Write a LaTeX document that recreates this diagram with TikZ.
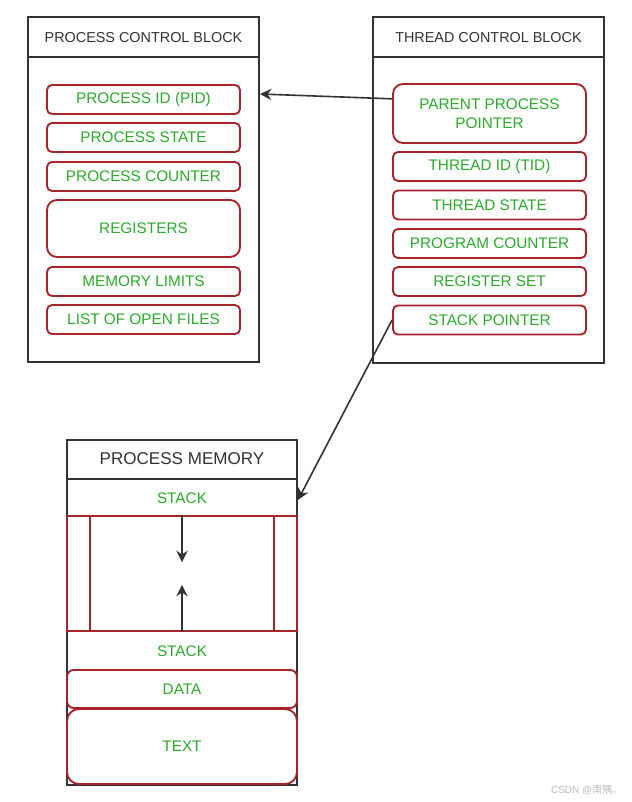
\documentclass[tikz,border=0pt]{standalone}
\usepackage{fontspec}
\setmainfont{Liberation Sans}
\newfontfamily\cjkfont{Noto Sans CJK SC}
\usetikzlibrary{arrows.meta}
\definecolor{boxgray}{HTML}{333333}
\definecolor{boxred}{HTML}{A8232A}
\definecolor{txtgreen}{HTML}{2BAA2B}
\definecolor{markgray}{HTML}{BBBBBB}

\tikzset{
  frame/.style={draw=boxgray, line width=1.5pt},
  field/.style={draw=boxred, line width=1.4pt, rounded corners=3.75pt,
    minimum width=144.75pt, minimum height=21.75pt, inner sep=0pt,
    text=txtgreen, font=\fontsize{11.5}{14}\selectfont, align=center},
  title/.style={text=boxgray, font=\fontsize{10.8}{13}\selectfont},
  link/.style={draw=boxgray, line width=1.2pt, -{Stealth[length=8.5pt,width=8.5pt]}},
}

\begin{document}
\begin{tikzpicture}[x=0.75pt,y=-0.75pt]
  \useasboundingbox (0,0) rectangle (631,802);

  % process control block
  \draw[frame] (28,17) rectangle (259,362);
  \draw[frame] (28,57) -- (259,57);
  \node[title] (pcbtitle) at (143.5,38) {PROCESS CONTROL BLOCK};
  \foreach \y/\name/\txt in {99.5/pid/PROCESS ID (PID), 137.5/pstate/PROCESS STATE,
      176.5/pcount/PROCESS COUNTER, 281.5/memlim/MEMORY LIMITS,
      319.5/files/LIST OF OPEN FILES}
    \node[field] (\name) at (143.5,\y) {\txt};
  \node[field, minimum height=42.75pt, rounded corners=7.5pt] (regs) at (143.5,228.5) {REGISTERS};

  % thread control block
  \draw[frame] (373,17) rectangle (604,363);
  \draw[frame] (373,57) -- (604,57);
  \node[title] (tcbtitle) at (488.5,38) {THREAD CONTROL BLOCK};
  \node[field, minimum height=44.25pt, rounded corners=7.5pt] (parent) at (489.5,113.5) {PARENT PROCESS\\POINTER};
  \foreach \y/\name/\txt in {166.5/tid/THREAD ID (TID), 205/tstate/THREAD STATE,
      243.5/progcount/PROGRAM COUNTER, 281.5/regset/REGISTER SET,
      320/stackptr/STACK POINTER}
    \node[field] (\name) at (489.5,\y) {\txt};

  % process memory
  \draw[frame] (67,440) rectangle (297,785);
  \draw[frame] (67,479) -- (297,479);
  \node[title, font=\fontsize{12.8}{15}\selectfont] (memtitle) at (182,459) {PROCESS MEMORY};
  \node[text=txtgreen, font=\fontsize{11.5}{13.5}\selectfont] (stacktop) at (182,498) {STACK};
  \node[draw=boxred, line width=1.4pt, minimum width=172.5pt, minimum height=86.25pt, inner sep=0pt] (gap) at (182,573.5) {};
  \draw[draw=boxred, line width=1.2pt] (90,516) -- (90,631);
  \draw[draw=boxred, line width=1.2pt] (274,516) -- (274,631);
  \draw[link] (gap.north) -- ++(0,47);
  \draw[link] (gap.south) -- ++(0,-47);
  \node[text=txtgreen, font=\fontsize{11.5}{13.5}\selectfont] (stackbot) at (182,651) {STACK};
  \node[field, minimum width=172.5pt, minimum height=28.5pt, rounded corners=5pt] (data) at (182,689) {DATA};
  \node[field, minimum width=172.5pt, minimum height=56.25pt, rounded corners=9pt] (text) at (182,746.5) {TEXT};

  % pointers
  \coordinate (pcbedge) at (260,94);
  \coordinate (memedge) at (298,500);
  \draw[link] ([yshift=11pt]parent.west) -- (pcbedge);
  \draw[link] (stackptr.west) -- (memedge);

  \node[anchor=east, text=markgray, font=\fontsize{7.5}{9}\selectfont] (mark) at (627,790) {CSDN @{\cjkfont 南隅。}};
\end{tikzpicture}
\end{document}
